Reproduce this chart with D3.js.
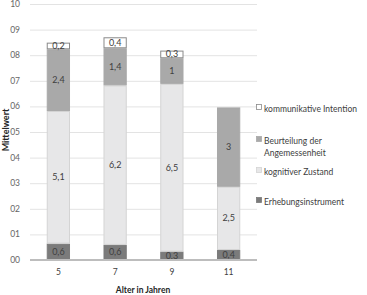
<!DOCTYPE html>
<html><head><meta charset="utf-8">
<script src="https://cdn.jsdelivr.net/npm/d3@7"></script>
<style>body{margin:0;background:#fff}svg{display:block;font-family:Lato,"Open Sans",sans-serif}</style>
</head><body><svg id="c" width="367" height="295"></svg>
<script>
const categories = ["5","7","9","11"];
const seriesNames = ["Erhebungsinstrument","kognitiver Zustand","Beurteilung der Angemessenheit","kommunikative Intention"];
const erhebung = [0.64, 0.59, 0.33, 0.39];
const kognitiv = [5.18, 6.23, 6.55, 2.47];
const beurteilung = [2.41, 1.45, 1.0, 3.1];
const kommunikativ = [0.26, 0.43, 0.30, 0];
const labelsErhebung = ["0,6","0,6","0,3","0,4"];
const labelsKognitiv = ["5,1","6,2","6,5","2,5"];
const labelsBeurteilung = ["2,4","1,4","1","3"];
const labelsKommunikativ = ["0,2","0,4","0,3",""];
const yTicks = [0,1,2,3,4,5,6,7,8,9,10];
const yTickLabels = ["00","01","02","03","04","05","06","07","08","09","10"];
const colors = ["#7b7b7b","#e7e7e8","#a9a9a9","#ffffff"];
const strokes = ["#7b7b7b","#d4d4d4","#a9a9a9","#8a8a8a"];

const svg = d3.select("#c");
const x = d3.scaleBand().domain(categories).range([30,257]).paddingInner(0.59).paddingOuter(0.295);
const y = d3.scaleLinear().domain([0,10]).range([260,4]);

svg.append("g").selectAll("line").data(yTicks.slice(1)).join("line")
  .attr("x1",30).attr("x2",257).attr("y1",d=>y(d)+0.5).attr("y2",d=>y(d)+0.5)
  .attr("stroke","#e3e3e3").attr("stroke-width",1);

const seriesVals = [erhebung,kognitiv,beurteilung,kommunikativ];
const seriesLabels = [labelsErhebung,labelsKognitiv,labelsBeurteilung,labelsKommunikativ];
const rows = categories.map((c,i)=>{const o={cat:c}; seriesNames.forEach((s,j)=>o[s]=seriesVals[j][i]); return o;});
const stack = d3.stack().keys(seriesNames)(rows);

stack.forEach((layer,j)=>{
  const g = svg.append("g");
  layer.forEach((d,i)=>{
    if (d[1]-d[0] <= 0) return;
    g.append("rect").attr("x",x(categories[i])+0.5).attr("y",y(d[1])+0.5)
      .attr("width",x.bandwidth()-1).attr("height",Math.max(0,y(d[0])-y(d[1])-1))
      .attr("fill",colors[j]).attr("stroke",strokes[j]).attr("stroke-width",1);
    const lbl = seriesLabels[j][i];
    if (lbl) g.append("text").attr("x",x(categories[i])+x.bandwidth()/2)
      .attr("y",(y(d[0])+y(d[1]))/2+3).attr("text-anchor","middle")
      .attr("font-size",9).attr("fill","#404040").text(lbl);
  });
});

svg.append("line").attr("x1",30).attr("x2",257).attr("y1",260).attr("y2",260).attr("stroke","#bdbdbd").attr("stroke-width",2);

svg.append("g").selectAll("text").data(yTicks).join("text")
  .attr("x",20).attr("y",d=>y(d)+3).attr("text-anchor","end").attr("font-size",8.5).attr("fill","#666")
  .text((d,i)=>yTickLabels[i]);

svg.append("g").selectAll("text").data(categories).join("text")
  .attr("x",d=>x(d)+x.bandwidth()/2).attr("y",275).attr("text-anchor","middle").attr("font-size",8.5).attr("fill","#404040").text(d=>d);

svg.append("text").attr("x",143).attr("y",293).attr("text-anchor","middle").attr("font-size",8.5).attr("font-weight","bold").attr("fill","#262626").text("Alter in Jahren");
svg.append("text").attr("transform","translate(8.5,130) rotate(-90)").attr("text-anchor","middle").attr("font-size",9).attr("font-weight","bold").attr("fill","#262626").text("Mittelwert");

const legendItems = [
  {i:3, lines:["kommunikative Intention"], y:109},
  {i:2, lines:["Beurteilung der","Angemessenheit"], y:141},
  {i:1, lines:["kognitiver Zustand"], y:172},
  {i:0, lines:["Erhebungsinstrument"], y:202}
];
const lg = svg.append("g");
legendItems.forEach(it=>{
  lg.append("rect").attr("x",256.5).attr("y",it.y-4.5).attr("width",5).attr("height",5)
    .attr("fill",colors[it.i]).attr("stroke",strokes[it.i]).attr("stroke-width",0.8);
  it.lines.forEach((l,k)=>{
    lg.append("text").attr("x",264).attr("y",it.y+3+k*11.5).attr("font-size",8.5).attr("fill","#404040").text(l);
  });
});
</script></body></html>
